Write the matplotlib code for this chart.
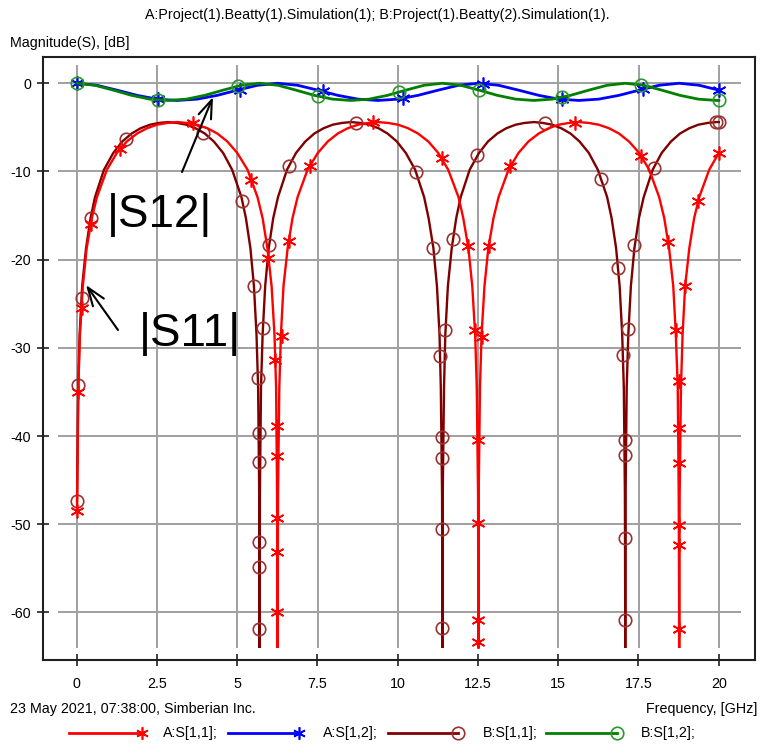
import matplotlib
matplotlib.use("Agg")

import matplotlib.pyplot as plt
from matplotlib.lines import Line2D
from matplotlib.patches import FancyArrowPatch

plt.rcParams["font.family"] = ["Liberation Sans", "DejaVu Sans"]

# ==============================
# DATA
# ==============================

X_TICKS = [0, 2.5, 5, 7.5, 10, 12.5, 15, 17.5, 20]
X_LABELS = ["0", "2.5", "5", "7.5", "10", "12.5", "15", "17.5", "20"]
Y_TICKS = [0, -10, -20, -30, -40, -50, -60]
Y_LABELS = ["0", "-10", "-20", "-30", "-40", "-50", "-60"]

# A:S[1,1]  (red)
a_s11_freq = [
    0.01, 0.05, 0.10, 0.19, 0.31, 0.47, 0.63, 0.94, 1.25, 1.56,
    1.88, 2.19, 2.50, 2.82, 3.13, 3.44, 3.75, 4.07, 4.38, 4.69,
    5.00, 5.32, 5.63, 5.79, 5.94, 6.07, 6.16, 6.21, 6.24, 6.252, 6.255,
    6.258, 6.27, 6.31, 6.36, 6.44, 6.57, 6.72, 6.88, 7.19, 7.51,
    7.82, 8.13, 8.44, 8.76, 9.07, 9.38, 9.70, 10.01, 10.32, 10.63,
    10.95, 11.26, 11.57, 11.89, 12.04, 12.20, 12.32, 12.41, 12.46, 12.50, 12.507, 12.51,
    12.513, 12.52, 12.56, 12.61, 12.70, 12.82, 12.98, 13.14, 13.45, 13.76,
    14.07, 14.39, 14.70, 15.01, 15.33, 15.64, 15.95, 16.26, 16.58, 16.89,
    17.20, 17.52, 17.83, 18.14, 18.30, 18.45, 18.58, 18.66, 18.72, 18.75, 18.762, 18.765,
    18.768, 18.78, 18.82, 18.87, 18.95, 19.08, 19.23, 19.39, 19.70, 20.00,
]
a_s11_db = [
    -48.5, -34.5, -28.5, -23.0, -18.7, -15.3, -12.9, -9.8, -7.9, -6.6,
    -5.7, -5.1, -4.7, -4.5, -4.4, -4.5, -4.7, -5.1, -5.7, -6.6,
    -7.9, -9.8, -12.9, -15.3, -18.7, -23.0, -28.5, -34.5, -46.5, -58.6, -80,
    -58.6, -46.5, -34.5, -28.5, -23.0, -18.7, -15.3, -12.9, -9.8, -7.9,
    -6.6, -5.7, -5.1, -4.7, -4.5, -4.4, -4.5, -4.7, -5.1, -5.7,
    -6.6, -7.9, -9.8, -12.9, -15.3, -18.7, -23.0, -28.5, -34.5, -46.5, -58.6, -80,
    -58.6, -46.5, -34.5, -28.5, -23.0, -18.7, -15.3, -12.9, -9.8, -7.9,
    -6.6, -5.7, -5.1, -4.7, -4.5, -4.4, -4.5, -4.7, -5.1, -5.7,
    -6.6, -7.9, -9.8, -12.9, -15.3, -18.7, -23.0, -28.5, -34.5, -46.5, -58.6, -80,
    -58.6, -46.5, -34.5, -28.5, -23.0, -18.7, -15.3, -12.9, -9.8, -7.9,
]
a_s11_mk_freq = [0.01, 0.05, 0.15, 0.43, 1.34, 3.62, 5.44, 5.97, 6.19, 6.25, 6.25, 6.25, 6.25, 6.25,
                 6.38, 6.61, 7.26, 9.23, 11.37, 12.19, 12.40, 12.51, 12.51, 12.51, 12.51, 12.61,
                 12.84, 13.49, 15.51, 17.59, 18.42, 18.68, 18.77, 18.77, 18.77, 18.77, 18.77, 18.77,
                 18.96, 19.36, 20.00]
a_s11_mk_db = [-48.5, -35.0, -25.5, -16.0, -7.4, -4.5, -11.0, -19.8, -31.4, -38.9, -42.3, -49.3, -53.1, -60.0,
               -28.7, -17.9, -9.4, -4.4, -8.5, -18.4, -28.0, -40.4, -49.9, -60.9, -63.3, -28.8,
               -18.5, -9.4, -4.5, -8.3, -18.0, -28.0, -33.8, -39.1, -43.0, -50.1, -52.3, -61.9,
               -23.0, -13.4, -7.9]

# B:S[1,1]  (maroon)
b_s11_freq = [
    0.01, 0.046, 0.091, 0.17, 0.29, 0.43, 0.57, 0.85, 1.14, 1.42,
    1.71, 1.99, 2.28, 2.56, 2.85, 3.13, 3.42, 3.70, 3.99, 4.27,
    4.56, 4.84, 5.13, 5.27, 5.41, 5.52, 5.60, 5.65, 5.684, 5.692, 5.695,
    5.698, 5.706, 5.74, 5.79, 5.87, 5.98, 6.12, 6.27, 6.55, 6.83,
    7.12, 7.40, 7.69, 7.97, 8.26, 8.54, 8.83, 9.11, 9.40, 9.68,
    9.97, 10.25, 10.54, 10.82, 10.96, 11.11, 11.22, 11.30, 11.34, 11.379, 11.387, 11.39,
    11.393, 11.401, 11.44, 11.48, 11.56, 11.68, 11.82, 11.96, 12.24, 12.53,
    12.81, 13.10, 13.38, 13.67, 13.95, 14.24, 14.52, 14.81, 15.09, 15.38,
    15.66, 15.95, 16.23, 16.52, 16.66, 16.80, 16.91, 16.99, 17.04, 17.074, 17.082, 17.085,
    17.088, 17.096, 17.13, 17.18, 17.26, 17.37, 17.51, 17.66, 17.94, 18.22,
    18.51, 18.79, 19.08, 19.36, 19.65, 19.93, 20.00,
]
b_s11_db = [
    -47.4, -34.5, -28.5, -23.0, -18.7, -15.3, -12.9, -9.8, -7.9, -6.6,
    -5.7, -5.1, -4.7, -4.5, -4.4, -4.5, -4.7, -5.1, -5.7, -6.6,
    -7.9, -9.8, -12.9, -15.3, -18.7, -23.0, -28.5, -34.5, -46.5, -58.6, -80,
    -58.6, -46.5, -34.5, -28.5, -23.0, -18.7, -15.3, -12.9, -9.8, -7.9,
    -6.6, -5.7, -5.1, -4.7, -4.5, -4.4, -4.5, -4.7, -5.1, -5.7,
    -6.6, -7.9, -9.8, -12.9, -15.3, -18.7, -23.0, -28.5, -34.5, -46.5, -58.6, -80,
    -58.6, -46.5, -34.5, -28.5, -23.0, -18.7, -15.3, -12.9, -9.8, -7.9,
    -6.6, -5.7, -5.1, -4.7, -4.5, -4.4, -4.5, -4.7, -5.1, -5.7,
    -6.6, -7.9, -9.8, -12.9, -15.3, -18.7, -23.0, -28.5, -34.5, -46.5, -58.6, -80,
    -58.6, -46.5, -34.5, -28.5, -23.0, -18.7, -15.3, -12.9, -9.8, -7.9,
    -6.6, -5.7, -5.1, -4.7, -4.5, -4.4, -4.4,
]
b_s11_mk_freq = [0.01, 0.046, 0.15, 0.43, 1.52, 3.92, 5.16, 5.52, 5.65, 5.69, 5.69, 5.69, 5.69, 5.69,
                 5.80, 5.99, 6.61, 8.69, 10.58, 11.11, 11.31, 11.39, 11.39, 11.39, 11.39, 11.47,
                 11.72, 12.47, 14.58, 16.32, 16.87, 17.01, 17.085, 17.085, 17.085, 17.085, 17.17,
                 17.35, 17.98, 19.90, 20.00]
b_s11_mk_db = [-47.4, -34.2, -24.3, -15.3, -6.3, -5.6, -13.4, -23.0, -33.4, -39.7, -42.9, -52.0, -54.8, -61.9,
               -27.7, -18.3, -9.4, -4.5, -10.1, -18.7, -30.9, -40.1, -42.5, -50.5, -61.8, -28.0,
               -17.7, -8.1, -4.5, -10.8, -21.0, -30.8, -40.4, -42.1, -51.6, -60.9, -27.9,
               -18.3, -9.6, -4.4, -4.4]

# A:S[1,2]  (blue)
a_s12_freq = [0.01, 0.63, 1.25, 1.88, 2.50, 3.13, 3.75, 4.38, 5.00, 5.63, 6.255,
              6.88, 7.51, 8.13, 8.76, 9.38, 10.01, 10.63, 11.26, 11.89, 12.51,
              13.14, 13.76, 14.39, 15.01, 15.64, 16.26, 16.89, 17.52, 18.14, 18.765,
              19.39, 20.00]
a_s12_db = [0.0, -0.23, -0.78, -1.37, -1.80, -1.95, -1.80, -1.37, -0.78, -0.23, 0.0,
            -0.23, -0.78, -1.37, -1.80, -1.95, -1.80, -1.37, -0.78, -0.23, 0.0,
            -0.23, -0.78, -1.37, -1.80, -1.95, -1.80, -1.37, -0.78, -0.23, 0.0,
            -0.23, -0.78]
a_s12_mk_freq = [0.0, 2.52, 5.08, 7.67, 10.17, 12.66, 15.10, 17.64, 20.00]
a_s12_mk_db = [0.0, -1.80, -0.71, -0.93, -1.69, -0.05, -1.82, -0.67, -0.78]

# B:S[1,2]  (green)
b_s12_freq = [0.01, 0.57, 1.14, 1.71, 2.28, 2.85, 3.42, 3.99, 4.56, 5.13, 5.695,
              6.27, 6.83, 7.40, 7.97, 8.54, 9.11, 9.68, 10.25, 10.82, 11.39,
              11.96, 12.53, 13.10, 13.67, 14.24, 14.81, 15.38, 15.95, 16.52, 17.085,
              17.66, 18.22, 18.79, 19.36, 19.93, 20.00]
b_s12_db = [0.0, -0.23, -0.78, -1.37, -1.80, -1.95, -1.80, -1.37, -0.78, -0.23, 0.0,
            -0.23, -0.78, -1.37, -1.80, -1.95, -1.80, -1.37, -0.78, -0.23, 0.0,
            -0.23, -0.78, -1.37, -1.80, -1.95, -1.80, -1.37, -0.78, -0.23, 0.0,
            -0.23, -0.78, -1.37, -1.80, -1.95, -1.95]
b_s12_mk_freq = [0.0, 2.53, 5.03, 7.52, 10.04, 12.53, 15.12, 17.56, 20.00]
b_s12_mk_db = [0.0, -1.87, -0.33, -1.46, -1.00, -0.78, -1.57, -0.19, -1.95]

LEGEND_NAMES = ["A:S[1,1];", "A:S[1,2];", "B:S[1,1];", "B:S[1,2];"]

# ==============================
# STYLE
# ==============================

RED = "#ff0000"
BLUE = "#0000ff"
MAROON = "#800000"
MAROON_MK = "#9a3232"
GREEN = "#008000"
GREEN_MK = "#2a9a2a"
STAR = (6, 2, 0)

W, H = 761, 744
FS = 10.3


def fx(px):
    return px / W


def fy(py):
    return 1 - py / H


fig = plt.figure(figsize=(W / 100, H / 100), dpi=100)

# outer frame with ticks and labels
ax_out = fig.add_axes([fx(43), fy(660), fx(755) - fx(43), fy(57) - fy(660)])
ax_out.set_xlim(-1.05, 21.13)
ax_out.set_ylim(-65.39, 2.98)
ax_out.set_xticks(X_TICKS)
ax_out.set_xticklabels(X_LABELS, fontsize=FS)
ax_out.set_yticks(Y_TICKS)
ax_out.set_yticklabels(Y_LABELS, fontsize=FS)
ax_out.tick_params(direction="inout", length=9, width=1.2, color="#202020")
ax_out.tick_params(axis="x", pad=8)
ax_out.tick_params(axis="y", pad=4)
for sp in ax_out.spines.values():
    sp.set_linewidth(1.5)
    sp.set_color("#202020")

# inner data area with grid
ax = fig.add_axes([fx(58), fy(648), fx(741) - fx(58), fy(65) - fy(648)])
ax.set_xlim(-0.583, 20.69)
ax.set_ylim(-64.03, 2.07)
ax.patch.set_alpha(0)
ax.set_xticks(X_TICKS)
ax.set_yticks(Y_TICKS)
ax.tick_params(length=0, labelbottom=False, labelleft=False)
for sp in ax.spines.values():
    sp.set_visible(False)
ax.set_axisbelow(True)
ax.grid(True, color="#a0a0a0", linewidth=1.4)

ax.plot(b_s11_freq, b_s11_db, color=MAROON, lw=1.7)
ax.plot(b_s11_mk_freq, b_s11_mk_db, ls="none", marker="o", ms=9, mfc="none", mec=MAROON_MK, mew=1.2)
ax.plot(a_s11_freq, a_s11_db, color=RED, lw=1.7)
ax.plot(a_s11_mk_freq, a_s11_mk_db, ls="none", marker=STAR, ms=10, mec=RED, mew=1.2)
ax.plot(a_s12_freq, a_s12_db, color=BLUE, lw=2.0)
ax.plot(a_s12_mk_freq, a_s12_mk_db, ls="none", marker=STAR, ms=10, mec=BLUE, mew=1.2)
ax.plot(b_s12_freq, b_s12_db, color=GREEN, lw=2.0)
ax.plot(b_s12_mk_freq, b_s12_mk_db, ls="none", marker="o", ms=9, mfc="none", mec=GREEN_MK, mew=1.2)

# texts
fig.text(fx(377), fy(15), "A:Project(1).Beatty(1).Simulation(1); B:Project(1).Beatty(2).Simulation(1).",
         ha="center", va="center", fontsize=FS)
fig.text(fx(10), fy(43), "Magnitude(S), [dB]", ha="left", va="center", fontsize=FS)
fig.text(fx(10), fy(709), "23 May 2021, 07:38:00, Simberian Inc.", ha="left", va="center", fontsize=FS)
fig.text(fx(757), fy(709), "Frequency, [GHz]", ha="right", va="center", fontsize=FS)

# annotations
fig.text(fx(160), fy(215), "|S12|", ha="center", va="center", fontsize=33)
fig.text(fx(190), fy(334), "|S11|", ha="center", va="center", fontsize=33)
for tail, tip in [((182, 172), (213, 97)), ((118, 330), (86, 285))]:
    fig.add_artist(FancyArrowPatch((fx(tail[0]), fy(tail[1])), (fx(tip[0]), fy(tip[1])),
                                   transform=fig.transFigure, arrowstyle="->,head_length=0.66,head_width=0.24",
                                   mutation_scale=20, lw=1.5, color="black", shrinkA=0, shrinkB=0))

# legend row
legend_styles = [
    (RED, STAR, RED, 69, 146, 163),
    (BLUE, STAR, BLUE, 228, 303, 323),
    (MAROON, "o", MAROON_MK, 388, 462, 483),
    (GREEN, "o", GREEN_MK, 546, 621, 641),
]
for name, (col, mk, mkc, x0, x1, xt) in zip(LEGEND_NAMES, legend_styles):
    fig.add_artist(Line2D([fx(x0), fx(x1 - 4)], [fy(733), fy(733)], transform=fig.transFigure,
                          color=col, lw=2.0, marker=mk, markevery=[1], ms=9,
                          mfc="none", mec=mkc, mew=1.2))
    fig.text(fx(xt), fy(733), name, ha="left", va="center", fontsize=FS)

plt.savefig("out.png", dpi=100)
